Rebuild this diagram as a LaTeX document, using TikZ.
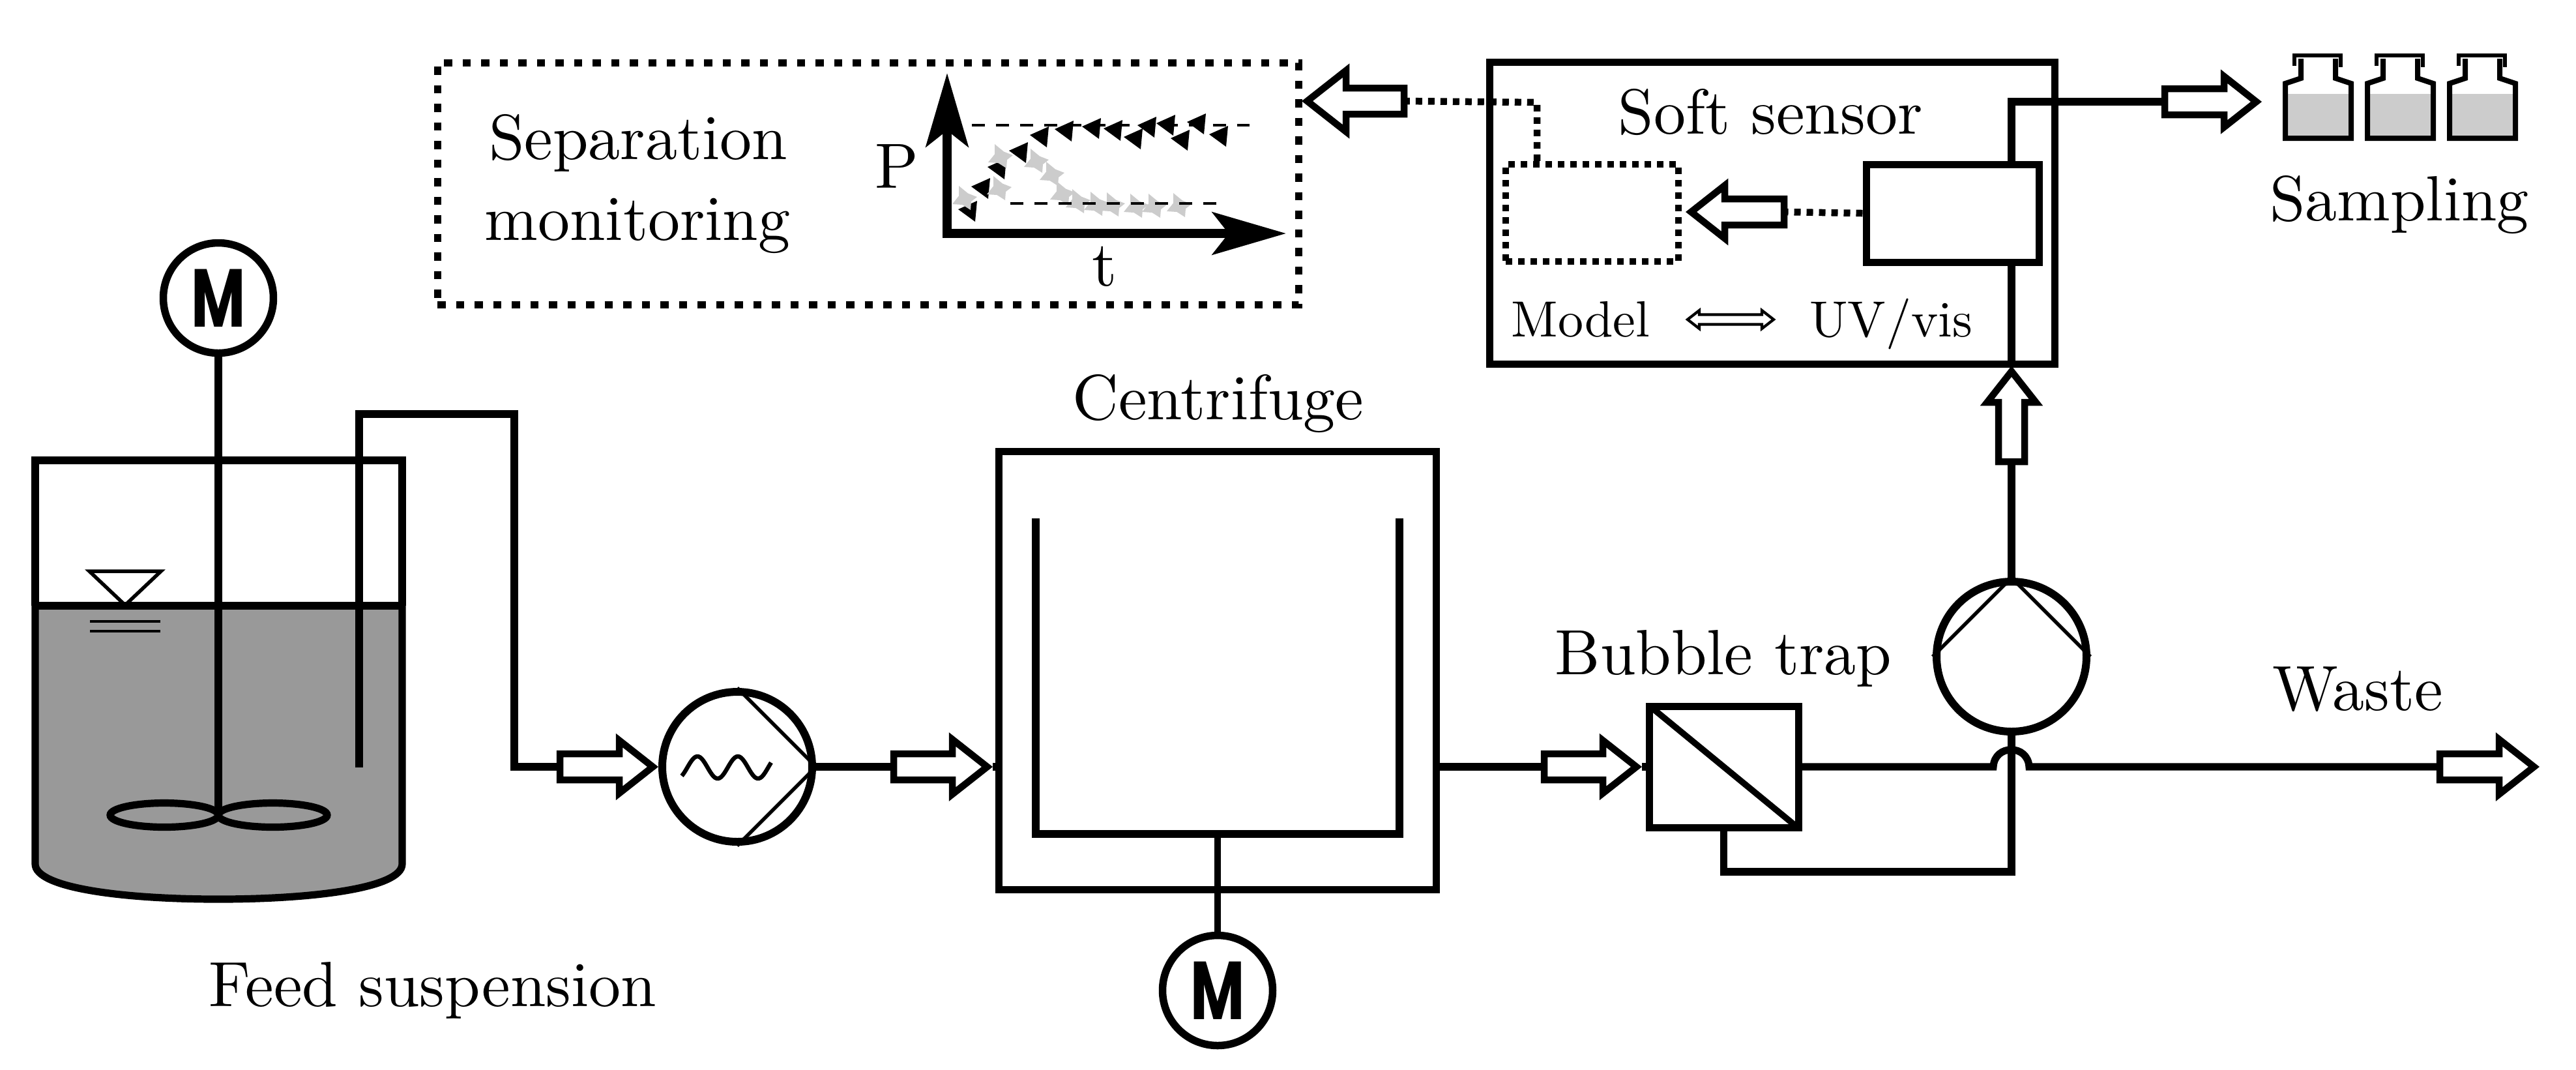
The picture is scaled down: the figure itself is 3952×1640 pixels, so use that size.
\documentclass[tikz,border=0pt]{standalone}
\usepackage{fontspec}
\usetikzlibrary{arrows.meta}
\newfontfamily\motorfont{Poppins}
\definecolor{liquid}{HTML}{999999}
\definecolor{pale}{HTML}{CCCCCC}
\tikzset{
  pipe/.style={line width=1.12pt,line join=miter},
  thinl/.style={line width=.55pt},
  lab/.style={font=\fontsize{9.8}{12.4}\selectfont,inner sep=0pt,anchor=base},
  smalllab/.style={font=\fontsize{10}{12}\selectfont,inner sep=0pt,anchor=base},
  box/.style={draw,rectangle,line width=1.1pt,inner sep=0pt},
  dotbig/.style={line width=1.1pt,dash pattern=on 1.25pt off 1.6pt},
  dotfine/.style={line width=1.05pt,dash pattern=on 1pt off .9pt},
  level/.style={line width=.45pt,dash pattern=on 2pt off 1.7pt},
  motor/.style={draw,circle,line width=1.15pt,minimum size=16.9pt,inner sep=0pt,fill=white,
    font=\motorfont\bfseries\fontsize{12.6}{12.6}\selectfont},
  pump/.style={draw,circle,line width=1.2pt,minimum size=23pt,inner sep=0pt},
  pics/flow/.style 2 args={code={
    \draw[line width=1.05pt,fill=white,miter limit=10]
      (-8.5,0) -- ({-#1},{-(#1-8.5)*.787}) -- ({-#1},-20) -- ({-#2},-20) -- ({-#2},20)
      -- ({-#1},20) -- ({-#1},{(#1-8.5)*.787}) -- cycle;
    \coordinate (-tail) at ({-#2},0);
    \coordinate (-tip) at (0,0);
  }},
}
\begin{document}
\begin{tikzpicture}[x=.1pt,y=-.1pt]
\useasboundingbox (0,0) rectangle (3952,1640);

% ---- feed tank
\fill[liquid] (54,929) -- (54,1325) .. controls (54,1362) and (190,1379) .. (335,1379)
   .. controls (480,1379) and (617,1362) .. (617,1325) -- (617,929) -- cycle;
\draw[pipe] (54,929) -- (54,706) -- (617,706) -- (617,929);
\draw[pipe] (54,929) -- (54,1325) .. controls (54,1362) and (190,1379) .. (335,1379)
   .. controls (480,1379) and (617,1362) .. (617,1325) -- (617,929);
\draw[pipe] (54,929) -- (617,929);
\draw[thinl] (137,876) -- (247,876) -- (192,928) -- cycle;
\draw[line width=.45pt] (138,953) -- (246,953) (138,968) -- (246,968);
\node[motor] (m1) at (335,457) {\scalebox{.72}[1]{M}};
\coordinate (hub) at (335,1250);
\draw[pipe] (m1.south) -- (hub);
\draw[pipe] (252,1250) ellipse [x radius=83,y radius=18.5];
\draw[pipe] (418.5,1250) ellipse [x radius=83.5,y radius=18.5];

\node[lab] (feed) at (664,1543) {Feed suspension};

% ---- feed pump
\pic (a1) at (1010,1176) {flow={60}{151}};
\draw[pipe] (551,1177) -- (551,635) -- (789,635) -- (789,1176) -- (a1-tail);
\node[pump] (p1) at (1131,1176) {};
\draw[thinl] (p1.north) -- (p1.east) -- (p1.south);
\draw[line width=.65pt] plot[domain=1046:1183,samples=60,smooth] (\x,{1177-17*cos((\x-1070)*5.806)});

% ---- centrifuge
\node[box] (cf) at (1868,1028) [minimum width=67.2pt,minimum height=67.2pt] {};
\node[lab] (cflab) at (1869,643) {Centrifuge};
\pic (a2) at (1523,1176) {flow={62}{152}};
\draw[pipe] (p1.east) -- (a2-tail);
\draw[pipe] (1589,795) -- (1589,1279) -- (2147,1279) -- (2147,795);
\node[motor] (m2) at (1868,1519) {\scalebox{.72}[1]{M}};
\coordinate (bowl) at (1868,1279);
\draw[line width=.95pt] (bowl) -- (m2.north);
\draw[pipe] (a2-tip) -- (a2-tip -| cf.west);

% ---- bubble trap
\pic (a3) at (2519,1176) {flow={60}{150}};
\draw[pipe] (a3-tail -| cf.east) -- (a3-tail);
\node[box] (trap) at (2644.5,1176) [minimum width=22.9pt,minimum height=18.6pt] {};
\draw[line width=.95pt,shorten <=.7pt,shorten >=.7pt] (trap.north west) -- (trap.south east);
\draw[pipe] (a3-tip) -- (trap.west);
\node[lab] (traplab) at (2644,1034) {Bubble trap};

% ---- second pump and crossings
\node[pump] (p2) at (3086,1007) {};
\draw[thinl] (p2.west) -- (p2.north) -- (p2.east);
\coordinate (loop) at (3086,1337);
\draw[pipe] (trap.south) |- (loop) -- (p2.south);
\pic (a4) at (3896,1176) {flow={62}{153}};
\coordinate (bl) at (3058,1176);
\coordinate (br) at (3113,1176);
\draw[pipe] (trap.east) -- (bl) .. controls (3060,1141) and (3111,1141) .. (br) -- (a4-tail);
\node[lab] (wastelab) at (3617,1089) {Waste};

% ---- soft sensor
\node[box] (soft) at (2719,327) [minimum width=86.8pt,minimum height=46.3pt] {};
\node[box] (uv) at (2995.5,327) [minimum width=26.5pt,minimum height=15pt] {};
\node[draw,rectangle,dotfine,inner sep=0pt,minimum width=26.5pt,minimum height=14.9pt] (model) at (2442.5,326.5) {};
\node[lab] (softlab) at (2716,205) {Soft sensor};
\node[smalllab] (modellab) at (2425,516) {\scalebox{.78}{Model}};
\node[smalllab] (uvlab) at (2901,516) {\scalebox{.78}{UV/vis}};
\draw[line width=.42pt,fill=white,shift={(2655,490)}]
  (-66,0) -- (-48,-14) -- (-48,-7.5) -- (48,-7.5) -- (48,-14) -- (66,0) -- (48,14) -- (48,7.5)
  -- (-48,7.5) -- (-48,14) -- cycle;
\pic[rotate=180] (a5) at (2586,325) {flow={60}{151}};
\draw[dotfine] (uv.west) -- (a5-tail);
\pic[rotate=90] (up) at (3086,561) {flow={56}{147}};
\draw[pipe] (p2.north) -- (up-tail);
\draw[pipe] (up-tip) -- (up-tip |- uv.south);
\pic (a6) at (3470,156) {flow={58}{149}};
\draw[pipe] (up-tip |- uv.north) |- (a6-tail);

% ---- separation monitoring
\node[draw,rectangle,dotbig,inner sep=0pt,minimum width=132.2pt,minimum height=37.1pt] (mon) at (1332,281.5) {};
\pic[rotate=180] (a7) at (1997,155) {flow={68}{157}};
\coordinate (corner) at (2358,157);
\draw[dotfine] (model.north -| corner) -- (corner) -- (a7-tail);
\node[lab] (sep1) at (979,244) {Separation};
\node[lab] (sep2) at (978,368) {monitoring};

% ---- small plot
\foreach \px/\py in {1470/321,1490/286,1515/256,1548/231,1580/207,1618/198,1660/194,1693/197,1724/210,1745/192,1774/189,1796/212,1821/187,1855/206}
  \fill (\px,\py) -- ++(29,-13) -- ++(-3,32) -- cycle;
\foreach \px/\py in {1481/304,1534/289,1536/240,1591/247,1615/267,1631/297,1655/309,1683/313,1708/314,1744/316,1772/316,1810/315}
  \fill[pale,shift={(\px,\py)}] (-10,-19) -- (4,-7.5) -- (18,-2) -- (9,5) -- (8,18) -- (-4.5,10) -- (-20,9) -- (-10,-3.5) -- cycle;
\draw[level] (1491,192) -- (1917,192);
\draw[level] (1550,312) -- (1866,312);
\coordinate (origin) at (1453,358);
\draw[line width=1.4pt,{Stealth[length=11.3pt,width=6.5pt,inset=2.5pt]}-{Stealth[length=11.3pt,width=6.5pt,inset=2.5pt]}]
  (1453,112) -- (origin) -- (1973,358);
\node[lab] (plabel) at (1376,288) {P};
\node[lab] (tlabel) at (1695,438) {t};

% ---- sample bottles
\foreach \dx in {0,126,252}{
  \begin{scope}[shift={(\dx,0)}]
    \fill[pale] (3508,144) rectangle (3605,210);
    \draw[line width=.8pt] (3530,90) -- (3530,120) -- (3506,128) -- (3506,212) -- (3607,212) -- (3607,128) -- (3583,120) -- (3583,90);
    \draw[line width=.65pt] (3520,101) -- (3520,85) -- (3591,85) -- (3591,103);
  \end{scope}
}
\node[lab] (samplab) at (3681,338) {Sampling};
\end{tikzpicture}
\end{document}
